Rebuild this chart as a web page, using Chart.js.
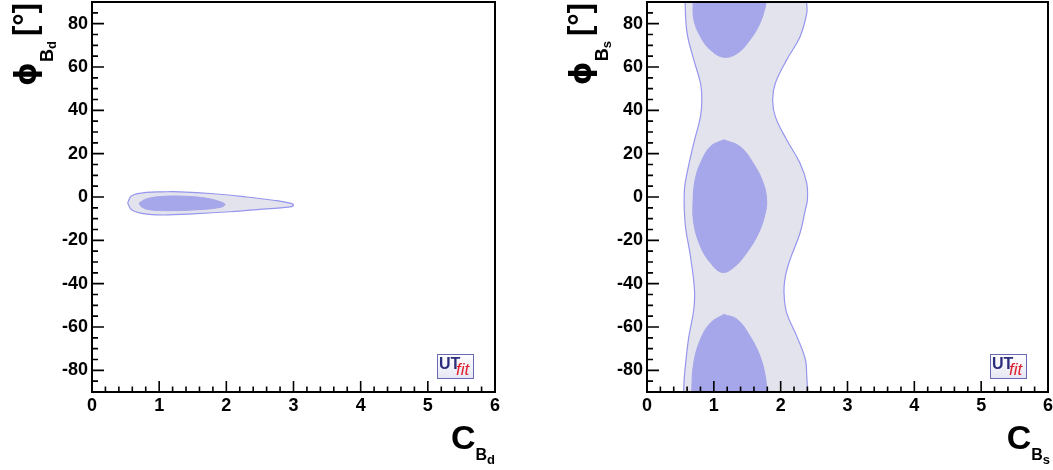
<!DOCTYPE html>
<html>
<head>
<meta charset="utf-8">
<script src="https://cdn.jsdelivr.net/npm/chart.js@4.4.0/dist/chart.umd.min.js"></script>
<style>
html,body{margin:0;padding:0;background:#fff;}
#wrap{position:relative;width:1053px;height:470px;overflow:hidden;}
.c{position:absolute;top:0;height:470px;}
</style>
</head>
<body>
<div id="wrap">
  <div class="c" style="left:0;width:526px"><canvas id="c1"></canvas></div>
  <div class="c" style="left:526px;width:527px"><canvas id="c2"></canvas></div>
</div>
<script>
// ---- axis data ----
const xTickValues = [0, 1, 2, 3, 4, 5, 6];
const yTickValues = [-80, -60, -40, -20, 0, 20, 40, 60, 80];

// ---- B_d contours (left panel) ----
const bdOuterX = [0.53, 0.59, 0.81, 1.06, 1.31, 1.81, 2.30, 2.70, 2.95, 3.00, 2.95, 2.60, 2.05, 1.56, 1.06, 0.76, 0.59, 0.53];
const bdOuterY = [-2.8, 0.6, 2.1, 2.4, 2.4, 1.5, 0.0, -1.5, -2.8, -3.7, -4.6, -5.5, -6.8, -7.7, -8.3, -7.7, -5.9, -2.8];
const bdInnerX = [0.70, 0.81, 1.06, 1.41, 1.71, 1.91, 1.98, 1.91, 1.56, 1.16, 0.86, 0.74, 0.70];
const bdInnerY = [-2.8, -0.9, 0.3, 0.3, -0.6, -2.2, -3.5, -4.8, -5.9, -6.3, -5.9, -4.6, -2.8];

// ---- B_s contours (right panel) ----
const bsOuterX = [0.55, 0.55, 0.56, 0.62, 0.70, 0.71, 0.65, 0.57, 0.56, 0.61, 0.70, 0.80, 0.82, 0.80, 0.70, 0.60, 0.57, 0.57,
                  2.39, 2.39, 2.39, 2.29, 2.09, 1.92, 1.88, 1.92, 2.09, 2.29, 2.39, 2.40, 2.37, 2.29, 2.14, 2.07, 2.05, 2.09, 2.24, 2.37, 2.39, 2.40, 2.40, 0.55];
const bsOuterY = [-96, -88.7, -82.6, -65.7, -51.9, -42.7, -27.4, -12.0, 3.4, 12.6, 24.9, 37.1, 44.8, 52.5, 63.3, 75.6, 89.4, 96,
                  96, 89.4, 84.8, 74.0, 63.3, 52.5, 44.8, 37.1, 26.4, 15.6, 6.4, -1.3, -5.8, -16.6, -28.9, -36.6, -44.2, -53.5, -64.2, -75.0, -82.6, -88.7, -96, -96];
const bsTopX = [0.69, 0.69, 0.70, 0.80, 0.95, 1.15, 1.35, 1.54, 1.69, 1.77, 1.78, 1.78, 0.69];
const bsTopY = [96, 90, 82, 74.0, 67.9, 64.5, 66.3, 72.5, 80.2, 87.8, 90, 96, 96];
const bsMidX = [1.15, 0.95, 0.80, 0.72, 0.69, 0.70, 0.80, 0.95, 1.12, 1.29, 1.49, 1.67, 1.77, 1.79, 1.74, 1.59, 1.39, 1.15];
const bsMidY = [26.4, 23.3, 15.6, 7.9, -1.3, -12.0, -22.8, -30.4, -34.8, -32.7, -25.8, -16.6, -7.4, -1.3, 6.4, 15.6, 23.3, 26.4];
const bsBotX = [1.15, 0.95, 0.80, 0.70, 0.67, 0.67, 1.79, 1.79, 1.77, 1.69, 1.54, 1.35, 1.15];
const bsBotY = [-54.2, -58.1, -65.7, -76.5, -88.7, -96, -96, -90, -82.6, -73.4, -64.2, -56.5, -54.2];

const FONT = "'Liberation Sans', Arial, Helvetica, sans-serif";
const GREEK = "'DejaVu Sans', 'Liberation Sans', sans-serif";
const C_INNER = 'rgb(166,166,234)';
const C_OUTER = 'rgb(227,227,237)';
const C_LINE = 'rgb(150,150,238)';

function pts(xs, ys) { return xs.map((v, i) => ({x: v, y: ys[i]})); }

function innerDs(xs, ys) {
  return {data: pts(xs, ys), fill: 'shape', backgroundColor: C_INNER, borderColor: C_INNER,
          borderWidth: 1, tension: 0.4, pointRadius: 0};
}
function outerDs(xs, ys) {
  return {data: pts(xs, ys), fill: 'shape', backgroundColor: C_OUTER, borderColor: C_LINE,
          borderWidth: 1.2, tension: 0.4, pointRadius: 0};
}

function f(size, fam) { return 'bold ' + size + 'px ' + (fam || FONT); }

const frameTicks = {
  id: 'frameTicks',
  afterDraw(chart, args, o) {
    const {ctx, chartArea: a, scales: {x, y}} = chart;
    ctx.save();
    ctx.strokeStyle = '#000';
    ctx.lineWidth = 1.6;
    ctx.beginPath();
    for (let i = 0; i <= 36; i++) {
      const v = -90 + i * 5;
      const py = y.getPixelForValue(v);
      const len = (v % 20 === 0) ? 12 : 6;
      ctx.moveTo(a.left, py); ctx.lineTo(a.left + len, py);
    }
    for (let i = 0; i <= 30; i++) {
      const v = i * 0.2;
      const px = x.getPixelForValue(v);
      const len = (i % 5 === 0) ? 11 : 5.5;
      ctx.moveTo(px, a.bottom); ctx.lineTo(px, a.bottom - len);
    }
    ctx.stroke();
    ctx.lineWidth = 2;
    ctx.strokeRect(a.left, a.top, a.right - a.left, a.bottom - a.top);

    ctx.fillStyle = '#000';
    ctx.textBaseline = 'alphabetic';
    ctx.textAlign = 'left';
    // x title
    const xp = [{t: o.xMain, s: 34, dy: 0}, {t: o.xSub, s: 16, dy: 11}, {t: o.xSub2, s: 13, dy: 15}];
    let tw = 0;
    xp.forEach(p => { ctx.font = f(p.s); p.w = ctx.measureText(p.t).width; tw += p.w; });
    let cx = a.right + (o.xShift || 0) - tw;
    xp.forEach(p => { ctx.font = f(p.s); ctx.fillText(p.t, cx, 449 + p.dy); cx += p.w; });

    // y title (rotated)
    const yp = [{t: o.yMain, s: 30, v: 36, fam: GREEK}, {t: o.ySub, s: 18, v: 53}, {t: o.ySub2, s: 13, v: 56},
                {t: '', s: 31, v: 36, gap: 5}, {t: '[', s: 31, v: 35}, {t: '°', s: 31, v: 35}, {t: ']', s: 31, v: 35}];
    let tl = 0;
    yp.forEach(p => { ctx.font = f(p.s, p.fam); p.w = p.gap ? p.gap : ctx.measureText(p.t).width; tl += p.w; });
    const X0 = a.left - 92;
    ctx.translate(X0, a.top + 1 + tl);
    ctx.rotate(-Math.PI / 2);
    let u = 0;
    yp.forEach(p => { if (p.t) { ctx.font = f(p.s, p.fam); ctx.fillText(p.t, u, p.v); } u += p.w; });
    ctx.setTransform(1, 0, 0, 1, 0, 0);
    ctx.scale(chart.currentDevicePixelRatio, chart.currentDevicePixelRatio);

    // UTfit logo
    const bx = a.right - 58, by = a.bottom - 38, bw = 37, bh = 25;
    const g = ctx.createLinearGradient(0, by, 0, by + bh);
    g.addColorStop(0, '#ffffff'); g.addColorStop(1, '#e6e6f4');
    ctx.fillStyle = g;
    ctx.fillRect(bx, by, bw, bh);
    ctx.strokeStyle = '#6a6ab4';
    ctx.lineWidth = 1;
    ctx.strokeRect(bx + 0.5, by + 0.5, bw - 1, bh - 1);
    ctx.fillStyle = '#2c2c7c';
    ctx.font = f(16);
    ctx.fillText('UT', bx + 2, by + 15);
    ctx.fillStyle = '#e0202a';
    ctx.font = 'italic 17px ' + FONT;
    ctx.fillText('fit', bx + 19, by + 21);
    ctx.restore();
  }
};

function makeChart(id, datasets, yAxisWidth, padRight, titles) {
  return new Chart(document.getElementById(id), {
    type: 'line',
    data: {datasets},
    options: {
      responsive: true,
      maintainAspectRatio: false,
      animation: false,
      events: [],
      layout: {padding: {left: 0, top: 2, right: padRight, bottom: 0}},
      elements: {line: {capBezierPoints: false}},
      scales: {
        x: {
          type: 'linear', min: 0, max: 6,
          grid: {display: false, drawTicks: false},
          border: {display: false},
          afterBuildTicks: s => { s.ticks = xTickValues.map(v => ({value: v})); },
          afterFit: s => { s.height = 78; s.paddingLeft = 0; s.paddingRight = 0; s.paddingTop = 0; s.paddingBottom = 0; },
          ticks: {color: '#000', font: {family: FONT, size: 18, weight: 'bold'}, padding: 3, maxRotation: 0, autoSkip: false}
        },
        y: {
          type: 'linear', min: -90, max: 90,
          grid: {display: false, drawTicks: false},
          border: {display: false},
          afterBuildTicks: s => { s.ticks = yTickValues.map(v => ({value: v})); },
          afterFit: s => { s.width = yAxisWidth; s.paddingLeft = 0; s.paddingRight = 0; s.paddingTop = 0; s.paddingBottom = 0; },
          ticks: {color: '#000', font: {family: FONT, size: 18, weight: 'bold'}, padding: 4, autoSkip: false}
        }
      },
      plugins: {legend: {display: false}, tooltip: {enabled: false}, frameTicks: titles}
    },
    plugins: [frameTicks]
  });
}

makeChart('c1', [innerDs(bdInnerX, bdInnerY), outerDs(bdOuterX, bdOuterY)], 92, 31,
  {xMain: 'C', xSub: 'B', xSub2: 'd', yMain: 'ϕ', ySub: 'B', ySub2: 'd', xShift: 0});
makeChart('c2', [innerDs(bsTopX, bsTopY), innerDs(bsMidX, bsMidY), innerDs(bsBotX, bsBotY), outerDs(bsOuterX, bsOuterY)], 121, 5,
  {xMain: 'C', xSub: 'B', xSub2: 's', yMain: 'ϕ', ySub: 'B', ySub2: 's', xShift: 2});
</script>
</body>
</html>
